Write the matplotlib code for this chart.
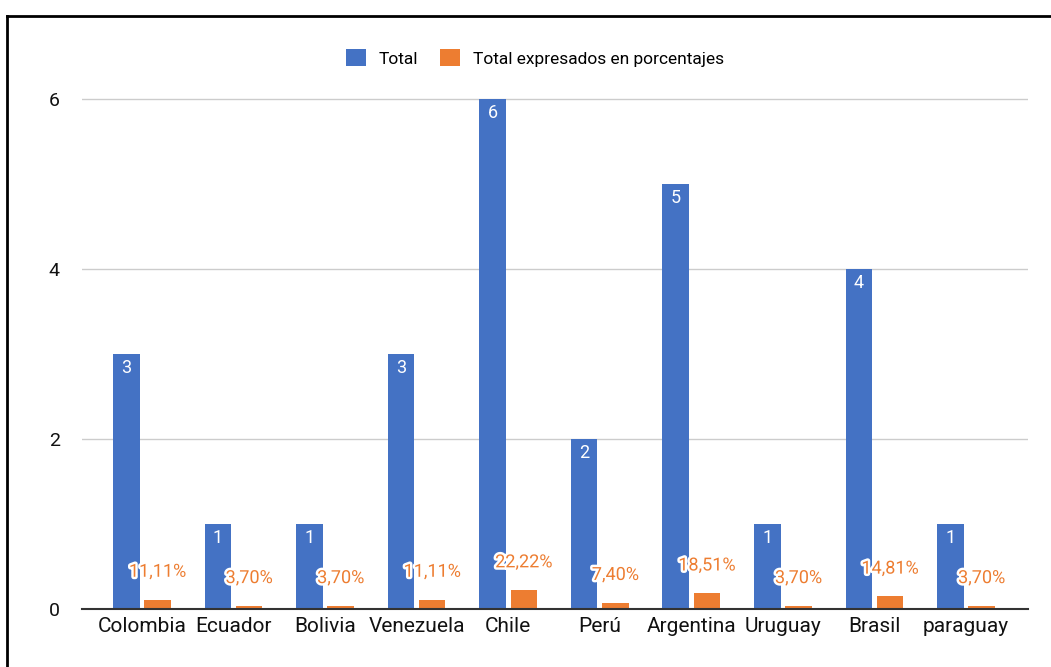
import numpy as np
import matplotlib.pyplot as plt
import matplotlib.patheffects as pe
from matplotlib.lines import Line2D

plt.rcParams['font.family'] = ['Roboto', 'DejaVu Sans']

paises = ['Colombia', 'Ecuador', 'Bolivia', 'Venezuela', 'Chile',
          'Perú', 'Argentina', 'Uruguay', 'Brasil', 'paraguay']
total = [3, 1, 1, 3, 6, 2, 5, 1, 4, 1]
porcentaje = [0.1111, 0.0370, 0.0370, 0.1111, 0.2222,
              0.0740, 0.1851, 0.0370, 0.1481, 0.0370]
etiquetas_pct = ['11,11%', '3,70%', '3,70%', '11,11%', '22,22%',
                 '7,40%', '18,51%', '3,70%', '14,81%', '3,70%']

azul = '#4472C4'
naranja = '#ED7D31'

fig = plt.figure(figsize=(10.51, 6.67), dpi=100)
ax = fig.add_axes([82 / 1051, 1 - 609 / 667, (1028 - 82) / 1051, (609 - 80) / 667])

x = np.arange(len(paises))
w = 0.29
off = 0.17
b1 = ax.bar(x - off, total, w, color=azul, label='Total', zorder=3)
b2 = ax.bar(x + off, porcentaje, w, color=naranja,
            label='Total expresados en porcentajes', zorder=3)

for xi, v in zip(x, total):
    ax.annotate(str(v), (xi - off, v), xytext=(0, -10), textcoords='offset points',
                ha='center', va='center', color='white', fontsize=13, zorder=4)

for xi, v, t in zip(x, porcentaje, etiquetas_pct):
    ax.annotate(t, (xi + off, v), xytext=(0, 20), textcoords='offset points',
                ha='center', va='center', color=naranja, fontsize=13, zorder=5,
                path_effects=[pe.withStroke(linewidth=3.5, foreground='white')])

ax.set_xlim(-0.655, 9.677)
ax.set_ylim(0, 6 * (609 - 80) / (609 - 99))
ax.set_yticks([0, 2, 4, 6])
ax.set_yticklabels(['0', '2', '4', '6'], fontsize=14, color='#111111')
ax.set_xticks(x)
ax.set_xticklabels(paises, fontsize=15, color='#111111')
ax.tick_params(axis='both', length=0)
ax.tick_params(axis='y', pad=16)
ax.tick_params(axis='x', pad=6)
ax.grid(axis='y', color='#cccccc', linewidth=1, zorder=0)
for s in ['top', 'right', 'left']:
    ax.spines[s].set_visible(False)
ax.spines['bottom'].set_color('#333333')
ax.spines['bottom'].set_linewidth(1.5)
ax.spines['bottom'].set_zorder(6)

fig.legend(handles=[b1, b2], loc='center', bbox_to_anchor=(535 / 1051, 1 - 58 / 667),
           ncol=2, frameon=False, fontsize=12.5, handlelength=1.15, handleheight=1.15,
           columnspacing=1.3, handletextpad=0.7)

# marco: solo borde superior e izquierdo visibles
fig.add_artist(Line2D([7 / 1051, 1], [1 - 16 / 667, 1 - 16 / 667],
                      transform=fig.transFigure, color='black', linewidth=2))
fig.add_artist(Line2D([7 / 1051, 7 / 1051], [0, 1 - 16 / 667],
                      transform=fig.transFigure, color='black', linewidth=2))

fig.savefig('out.png', dpi=100)
